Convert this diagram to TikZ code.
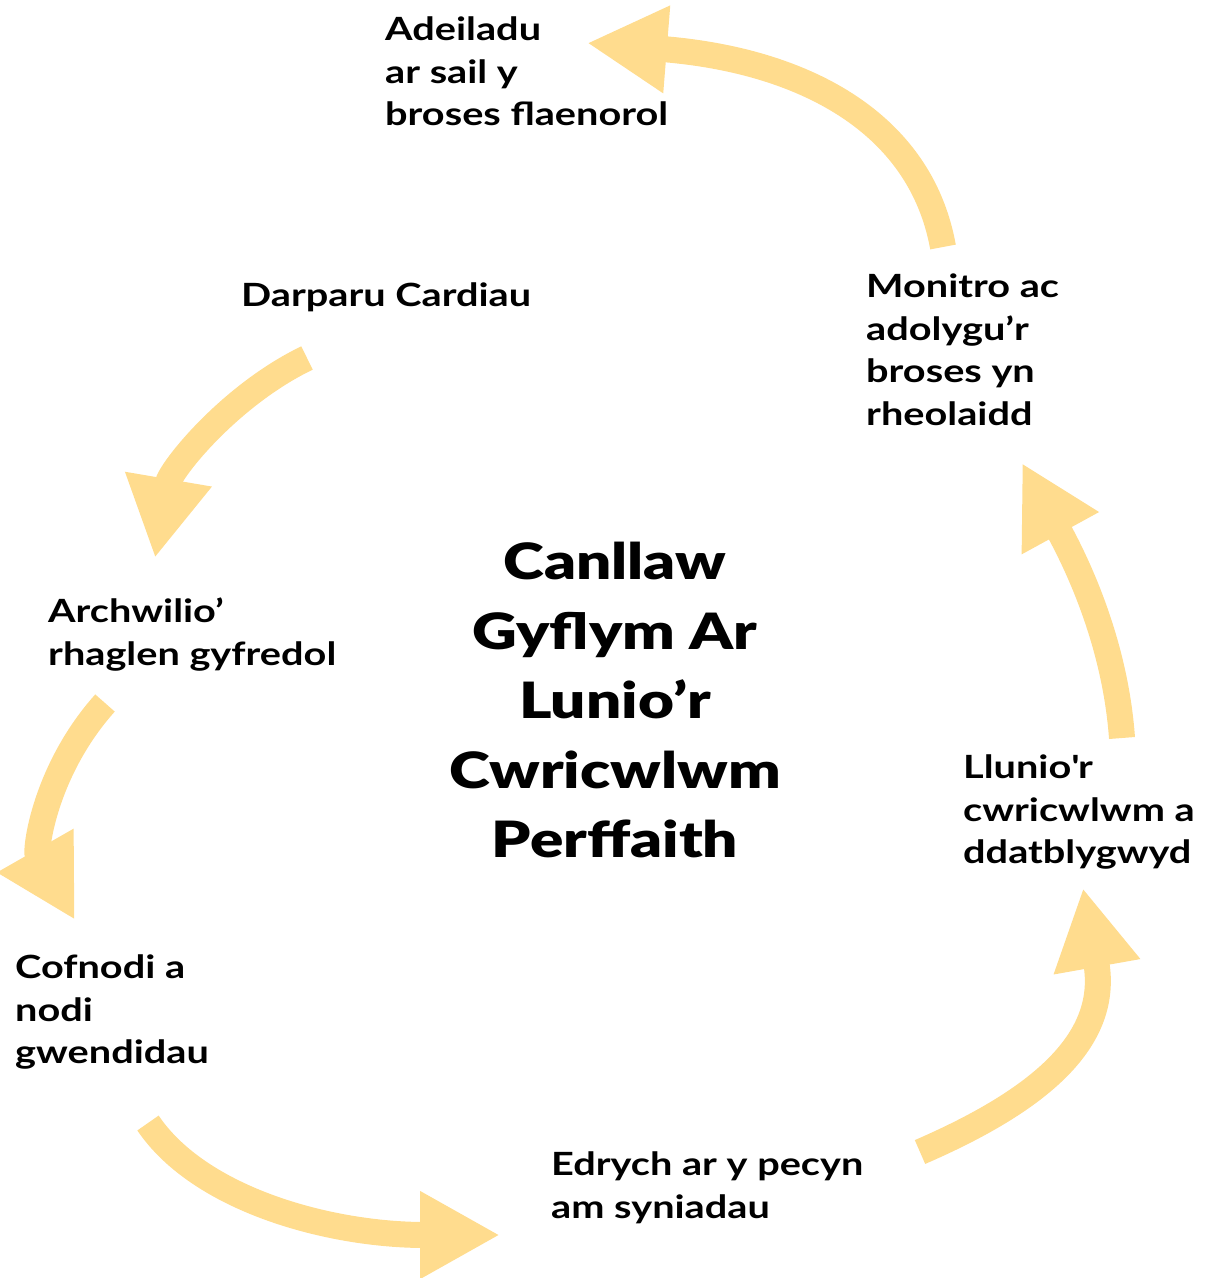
\documentclass[tikz,border=0pt]{standalone}
\usepackage{fontspec}
\setmainfont{Lato}[FakeStretch=1.24]
\newfontfamily\titlefont{Lato Black}[FakeStretch=1.24]
\usetikzlibrary{arrows.meta}
\usetikzlibrary{positioning}
\definecolor{arrowyellow}{HTML}{FFDC8E}
\tikzset{
  steptext/.style={anchor=north west,inner sep=0pt,align=left,font=\fontsize{32}{42.5}\selectfont\bfseries},
  bigarrow/.style={draw=arrowyellow,line width=26pt,-{Triangle[length=80pt,width=82pt,fill=arrowyellow]}}
}

\begin{document}
\begin{tikzpicture}[x=1pt,y=-1pt]
\useasboundingbox (0,0) rectangle (1205,1278);

\node[inner sep=0pt,align=center,font=\titlefont\fontsize{50}{69.5}\selectfont](0) at (615,700){Canllaw\\Gyflym Ar\\Lunio’r\\Cwricwlwm\\Perffaith};

\node[steptext](1) at (385,17){Adeiladu\\ar sail y\\broses flaenorol};
\node[steptext](2) at (241,283){Darparu Cardiau};
\node[steptext](3) at (48,598){Archwilio’\\rhaglen gyfredol};
\node[steptext](4) at (15,955){Cofnodi a\\nodi\\gwendidau};
\node[steptext](5) at (551,1152){Edrych ar y pecyn\\am syniadau};
\node[steptext](6) at (963,755){Llunio\textquotesingle r\\cwricwlwm a\\ddatblygwyd};
\node[steptext](7) at (866,274){Monitro ac\\adolygu’r\\broses yn\\rheolaidd};

% arrow ends
\coordinate (t1) at (943,247); \coordinate (h1) at (587,43);
\coordinate (t2) at (307,358); \coordinate (h2) at (155,558);
\coordinate (t3) at (105,703); \coordinate (h3) at (75,920);
\coordinate (t4) at (148,1123); \coordinate (h4) at (500,1235);
\coordinate (t5) at (920,1152); \coordinate (h5) at (1083,888);
\coordinate (t6) at (1122,738); \coordinate (h6) at (1022,463);

\draw[bigarrow](t1) .. controls (920,120) and (800,60) .. (h1);
\draw[bigarrow](t2) .. controls (230,395) and (170,470) .. (h2);
\draw[bigarrow](t3) .. controls (45,770) and (35,850) .. (h3);
\draw[bigarrow](t4) .. controls (200,1200) and (330,1235) .. (h4);
\draw[bigarrow](t5) .. controls (1040,1100) and (1110,1040) .. (h5);
\draw[bigarrow](t6) .. controls (1115,640) and (1075,560) .. (h6);

\end{tikzpicture}
\end{document}
